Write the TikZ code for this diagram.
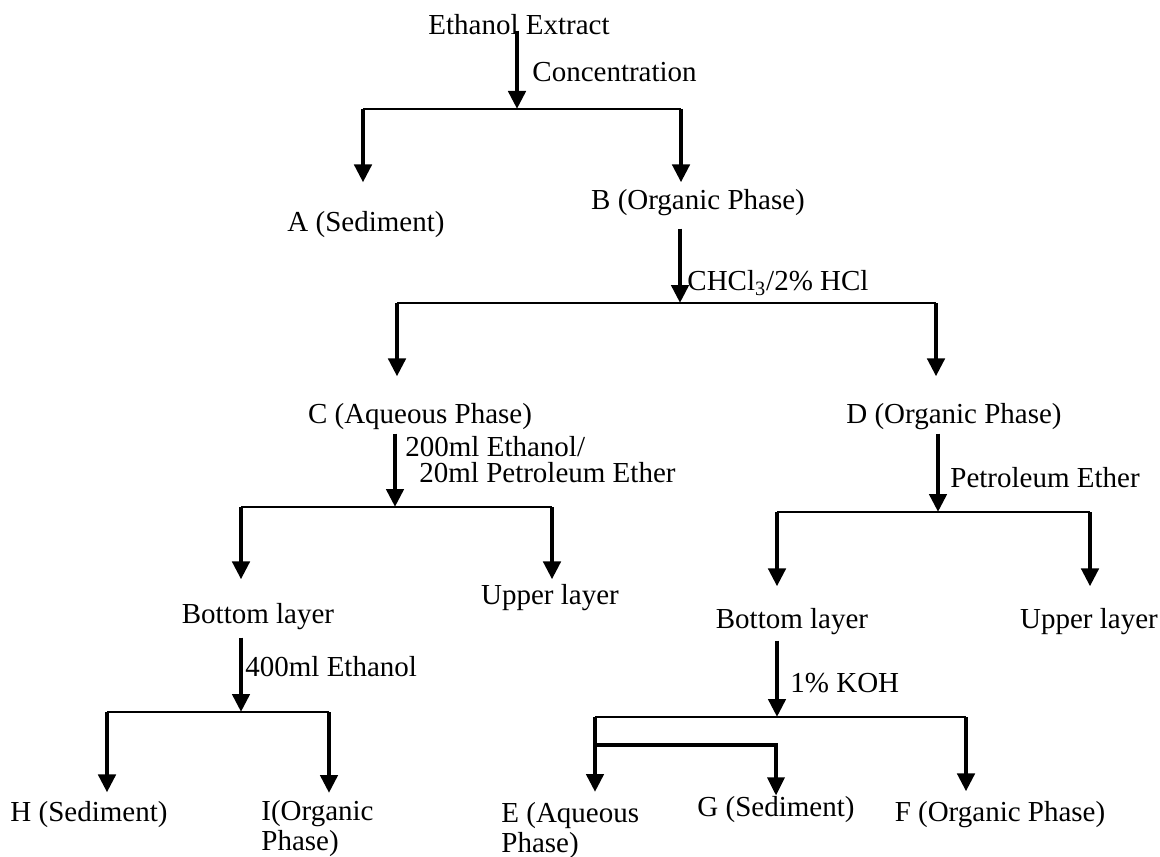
\documentclass[tikz,border=0pt]{standalone}
\usepackage{fontspec}
\setmainfont{Liberation Serif}
\usetikzlibrary{arrows.meta}

\begin{document}
\begin{tikzpicture}[
        x=0.5pt, y=-0.5pt,
        font=\fontsize{14.5}{15}\selectfont,
        txt/.style={inner sep=0pt, align=left},
        lbl/.style={inner sep=0pt, anchor=west, align=left},
        arr/.style={line width=2.3pt, -{Triangle[width=8.5pt, length=9pt]}},
        bar/.style={line width=0.7pt},
        link/.style={line width=1.7pt},
    ]
        \useasboundingbox (0,0) rectangle (1160,856);
        % fractions
        \node[txt] (ext) at (519,25) {Ethanol Extract};
        \node[txt] (A) at (366,225) {A (Sediment)};
        \node[txt] (B) at (698,203) {B (Organic Phase)};
        \node[txt] (C) at (420,417) {C (Aqueous Phase)};
        \node[txt] (D) at (954,417) {D (Organic Phase)};
        \node[txt] (botC) at (258,617) {Bottom layer};
        \node[txt] (upC) at (550,598) {Upper layer};
        \node[txt] (botD) at (792,622) {Bottom layer};
        \node[txt] (upD) at (1089,622) {Upper layer};
        \node[txt] (H) at (89,815) {H (Sediment)};
        \node[txt, anchor=north west] (I) at (261,800) {I(Organic\\Phase)};
        \node[txt, anchor=north west] (E) at (501,802) {E (Aqueous\\Phase)};
        \node[txt] (G) at (776,810) {G (Sediment)};
        \node[txt] (F) at (1000,815) {F (Organic Phase)};
        % solvents
        \node[lbl] (conc) at (532,72) {Concentration};
        \node[lbl] (acid) at (687,283) {CHCl\textsubscript{3}/2\% HCl};
        \node[lbl, font=\fontsize{14.5}{13}\selectfont] (mix) at (405,460)
            {200ml Ethanol/\\\hspace*{7pt}20ml Petroleum Ether};
        \node[lbl] (pet) at (950,478) {Petroleum Ether};
        \node[lbl] (eth) at (245,667) {400ml Ethanol};
        \node[lbl] (koh) at (790,683) {1\% KOH};

        % extract -> A, B
        \coordinate (s1) at (517,109);
        \coordinate (s1l) at (363,109);
        \coordinate (s1r) at (681,109);
        \draw[arr, shorten <=-2.5pt] (ext.south -| s1) -- (s1);
        \draw[bar] (s1l) -- (s1r);
        \draw[arr, shorten >=14.5pt] (s1l) -- (s1l |- A.north);
        \draw[arr, shorten >=3.5pt] (s1r) -- (s1r |- B.north);

        % B -> C, D
        \coordinate (s2) at (680,303);
        \coordinate (s2l) at (397,303);
        \coordinate (s2r) at (936,303);
        \draw[arr, shorten <=6pt] (B.south -| s2) -- (s2);
        \draw[bar] (s2l) -- (s2r);
        \draw[arr, shorten >=13.5pt] (s2l) -- (s2l |- C.north);
        \draw[arr, shorten >=13.5pt] (s2r) -- (s2r |- D.north);

        % C -> layers
        \coordinate (s3) at (395,507);
        \coordinate (s3l) at (241,507);
        \coordinate (s3r) at (552,507);
        \draw[arr, shorten <=1.5pt] (C.south -| s3) -- (s3);
        \draw[bar] (s3l) -- (s3r);
        \draw[arr, shorten >=12pt] (s3l) -- (s3l |- botC.north);
        \draw[arr, shorten >=2.5pt] (s3r) -- (s3r |- upC.north);

        % bottom layer -> H, I
        \coordinate (s4) at (241,712);
        \coordinate (s4l) at (107,712);
        \coordinate (s4r) at (329,712);
        \draw[arr, shorten <=3.5pt] (botC.south -| s4) -- (s4);
        \draw[bar] (s4l) -- (s4r);
        \draw[arr, shorten >=4.5pt] (s4l) -- (s4l |- H.north);
        \draw[arr, shorten >=3.5pt] (s4r) -- (s4r |- I.north);

        % D -> layers
        \coordinate (s5) at (938,512);
        \coordinate (s5l) at (777,512);
        \coordinate (s5r) at (1090,512);
        \draw[arr, shorten <=1.5pt] (D.south -| s5) -- (s5);
        \draw[bar] (s5l) -- (s5r);
        \draw[arr, shorten >=11pt] (s5l) -- (s5l |- botD.north);
        \draw[arr, shorten >=11pt] (s5r) -- (s5r |- upD.north);

        % bottom layer -> E, G, F
        \coordinate (s6) at (777,717);
        \coordinate (s6l) at (595,717);
        \coordinate (s6r) at (966,717);
        \coordinate (s6g) at (595,745);
        \draw[arr, shorten <=2.5pt] (botD.south -| s6) -- (s6);
        \draw[bar] (s6l) -- (s6r);
        \draw[arr, shorten >=5pt] (s6l) -- (s6l |- E.north);
        \draw[arr, link, shorten >=0.5pt] (s6g) -| (G.north);
        \draw[arr, shorten >=5pt] (s6r) -- (s6r |- F.north);
\end{tikzpicture}
\end{document}
